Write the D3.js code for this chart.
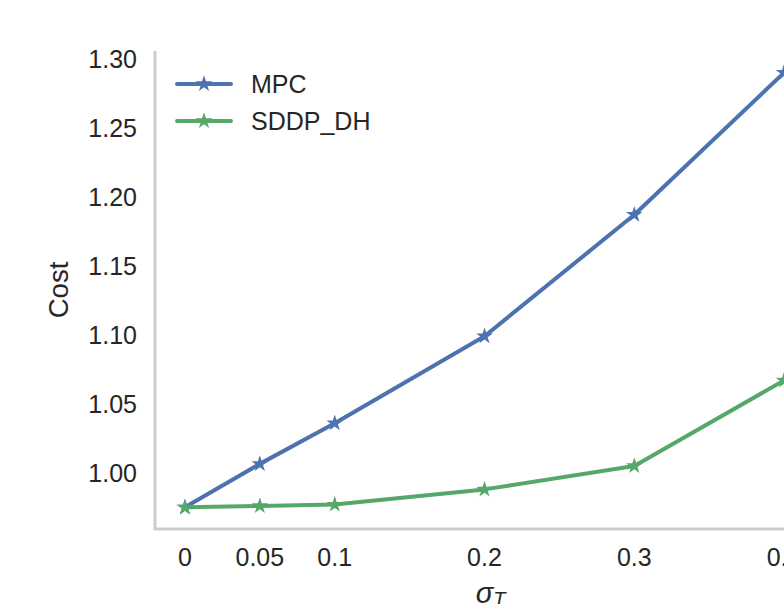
<!DOCTYPE html>
<html>
<head>
<meta charset="utf-8">
<script src="https://cdn.jsdelivr.net/npm/d3@7"></script>
<style>
  body { margin: 0; background: #fff; }
  svg { display: block; font-family: "Liberation Sans", Arial, sans-serif; }
</style>
</head>
<body>
<svg width="784" height="604"></svg>
<script>
// data
const sigma = [0, 0.05, 0.1, 0.2, 0.3, 0.4];
const xTicks = [0, 0.05, 0.1, 0.2, 0.3, 0.4];
const yTicks = [1.00, 1.05, 1.10, 1.15, 1.20, 1.25, 1.30];
const mpc = [0.975, 1.0065, 1.036, 1.099, 1.187, 1.290];
const sddp = [0.975, 0.976, 0.977, 0.988, 1.005, 1.067];

const series = [
  { name: "MPC", values: mpc, color: "#4C72B0" },
  { name: "SDDP_DH", values: sddp, color: "#55A868" }
];

const svg = d3.select("svg");

// plot box (right side runs past the window, like the reference crop)
const plotL = 155, plotR = 814, plotT = 51, plotB = 529;

const x = d3.scaleLinear().domain([-0.02, 0.42]).range([plotL, plotR]);
const y = d3.scaleLinear().domain([0.9593, 1.3057]).range([plotB, plotT]);

// spines
svg.append("line")
  .attr("x1", plotL).attr("x2", plotL)
  .attr("y1", plotT).attr("y2", plotB)
  .attr("stroke", "#cccccc").attr("stroke-width", 3);
svg.append("line")
  .attr("x1", plotL - 1.5).attr("x2", plotR)
  .attr("y1", plotB).attr("y2", plotB)
  .attr("stroke", "#cccccc").attr("stroke-width", 3);

// tick labels
const fmtY = d3.format(".2f");
svg.append("g").selectAll("text")
  .data(yTicks).enter().append("text")
  .attr("x", plotL - 18)
  .attr("y", d => y(d))
  .attr("dy", "0.35em")
  .attr("text-anchor", "end")
  .attr("font-size", 25)
  .attr("fill", "#262626")
  .text(d => fmtY(d));

svg.append("g").selectAll("text")
  .data(xTicks).enter().append("text")
  .attr("x", d => x(d))
  .attr("y", 557)
  .attr("dy", "0.35em")
  .attr("text-anchor", "middle")
  .attr("font-size", 25)
  .attr("fill", "#262626")
  .text(d => String(d));

// axis labels
svg.append("text")
  .attr("transform", "translate(58," + ((plotT + plotB) / 2) + ") rotate(-90)")
  .attr("text-anchor", "middle")
  .attr("dy", "0.35em")
  .attr("font-size", 27.5)
  .attr("fill", "#262626")
  .text("Cost");

const xl = svg.append("text")
  .attr("x", x(0.2) + 6)
  .attr("y", 603)
  .attr("text-anchor", "middle")
  .attr("font-size", 29)
  .attr("font-style", "italic")
  .attr("fill", "#262626");
xl.append("tspan").text("σ");
xl.append("tspan").attr("font-size", 20).attr("dy", 3).text("T");

// lines and star markers
const line = d3.line()
  .x((d, i) => x(sigma[i]))
  .y(d => y(d));
const star = d3.symbol().type(d3.symbolStar).size(85);

series.forEach(s => {
  const g = svg.append("g");
  g.append("path")
    .attr("d", line(s.values))
    .attr("fill", "none")
    .attr("stroke", s.color)
    .attr("stroke-width", 4)
    .attr("stroke-linejoin", "round")
    .attr("stroke-linecap", "round");
  g.selectAll("path.m")
    .data(s.values).enter().append("path")
    .attr("class", "m")
    .attr("transform", (d, i) => "translate(" + x(sigma[i]) + "," + y(d) + ")")
    .attr("d", star)
    .attr("fill", s.color);
});

// legend
const legend = svg.append("g").attr("transform", "translate(177,84)");
series.forEach((s, i) => {
  const row = legend.append("g").attr("transform", "translate(0," + i * 37 + ")");
  row.append("line")
    .attr("x1", 0).attr("x2", 54)
    .attr("stroke", s.color).attr("stroke-width", 4)
    .attr("stroke-linecap", "round");
  row.append("path")
    .attr("transform", "translate(27,0)")
    .attr("d", star)
    .attr("fill", s.color);
  row.append("text")
    .attr("x", 74)
    .attr("dy", "0.35em")
    .attr("font-size", 25)
    .attr("fill", "#262626")
    .text(s.name);
});
</script>
</body>
</html>
